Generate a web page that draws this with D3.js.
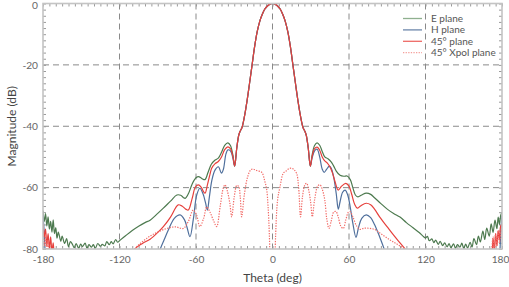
<!DOCTYPE html>
<html lang="en">
<head>
<meta charset="UTF-8">
<title>Radiation pattern</title>
<script src="https://d3js.org/d3.v7.min.js"></script>
<style>
    body { margin: 0; padding: 0; background: #fff; }
    svg { display: block; font-family: Lato, "Open Sans", sans-serif; }
    .grid line { stroke: #8a8a8a; stroke-width: 1; stroke-dasharray: 6,4; }
    .ticks line { stroke: #9a9a9a; stroke-width: 1; }
    .ticks path { display: none; }
    .labels path, .labels line { display: none; }
    .labels text { fill: #666; font-size: 10.2px; font-family: Lato, sans-serif; }
    .trace { fill: none; stroke-width: 1.2px; }
</style>
</head>
<body>
<svg width="509" height="287"></svg>
<script>
// axis ticks
const xTickLabels = [-180, -120, -60, 0, 60, 120, 180];
const yTickLabels = [0, -20, -40, -60, -80];
const seriesNames = ["E plane", "H plane", "45\u00b0 plane", "45\u00b0 Xpol plane"];

// main lobe shared by the co-pol cuts
const mainLobe = [[-24,-40.5],[-22,-36.8],[-20,-31.8],[-18,-26],[-16,-20],[-14,-14],[-12,-9.2],[-10,-5.8],[-8,-3.5],[-6,-1.8],[-4,-0.8],[-2,-0.2],[0,0],
    [2,-0.2],[4,-0.8],[6,-1.8],[8,-3.5],[10,-5.8],[12,-9.2],[14,-14],[16,-20],[18,-26],[20,-31.8],[22,-36.8],[24,-40.5]];

// E plane (green)
const eLeft = [[-180,-67.5],[-179,-71],[-178,-68.5],[-177,-72.5],[-176,-69.5],[-175,-73.5],[-174,-71],[-173,-74.5],[-172,-70.5],[-171,-75],[-170,-73],[-169,-76.5],[-168,-74.5],
    [-166,-77.5],[-165,-75.8],[-163,-78.2],[-161.5,-76.6],[-160,-79.2],[-158.5,-77.6],[-157,-78.4],[-155.5,-79.6],[-154,-78.2],[-152,-79.8],[-150.5,-78.4],[-149,-79.2],
    [-147,-78.1],[-145.5,-79.8],[-144,-78.6],[-142,-79.4],[-140.5,-78.6],[-139,-79.8],[-137,-78.2],[-135,-79.1],[-133.5,-78.5],[-131.5,-79],[-130,-77.6],[-128,-78.6],
    [-126.5,-77.6],[-125,-78.3],[-123,-76.9],[-121.5,-77.8],[-119.5,-77.1],
    [-115,-75.6],[-110,-74],[-105,-72.6],[-100,-71.4],[-96,-70.6],[-90,-68.4],[-85.6,-66.7],[-80,-64.4],[-75,-62.4],[-72,-62.5],[-70,-63.2],[-68.5,-63.5],
    [-66,-62],[-63,-58.8],[-60,-56.8],[-58,-56.4],[-55.5,-57],[-53,-57.4],[-50.5,-55],[-48,-52.4],[-45,-51],[-42.5,-50.4],[-40,-48.5],[-37.5,-46.2],
    [-35,-45.4],[-33,-46.3],[-31,-49.5],[-29.7,-53],[-28,-47],[-26.5,-43],[-25.5,-41.7]];
const eRight = [[25.5,-41.7],[26.5,-43],[28,-47],[29.7,-53],[31,-49.5],[33,-46.3],[35,-45.4],[37,-46.2],[39,-48.2],[41,-50],[43.5,-50.6],[46,-51.6],[48,-53],
    [50,-54.6],[53,-56],[56,-56.3],[58.5,-56.2],[61,-57.4],[63,-60],[65,-62.4],[67,-63],[70,-62.4],[73.5,-61.8],[77,-62.2],[80,-63.3],[85,-65.2],[90,-67],
    [95,-68.4],[100,-69.6],[105,-71.4],[110,-73],[115,-74.6],[118,-75.8],[120,-76.4],[121.5,-75.9],[123,-77.3],[125,-76.7],[126.5,-77.9],[128,-77.1],[130,-78.5],
    [131.5,-77.5],[133.5,-78.9],[135,-78],[137,-79.3],[138.5,-78.2],[140,-79.6],[142,-78.3],[143.5,-79.8],[145,-78.6],[147,-79.4],[148.5,-78.1],[150,-79.8],
    [151.5,-78.4],[153,-79.7],[155,-77.8],[156.5,-79.4],[158,-76.6],[160,-78.6],[161.5,-75.8],[163,-77.7],[165,-74.2],[166.5,-76.9],[168,-73.2],[170,-75.8],
    [171.5,-71.8],[173,-74.6],[174.5,-70.6],[176,-73.4],[177,-69.6],[178,-72],[179,-69],[180,-68]];

// H plane (blue)
const hLeft = [[-180,-69],[-179,-75],[-178,-84],[-176,-95]];
const hMid = [[-95,-90],[-88,-80],[-85,-77],[-81.7,-73.8],[-77,-70],[-72.5,-68.9],[-69,-70.5],[-67,-73],[-64.7,-76],[-62,-70],[-59.5,-62.5],[-57,-60.2],
    [-54.5,-62],[-52.5,-65],[-51.1,-67.3],[-49.5,-63],[-47.5,-57.5],[-45.1,-54.3],[-42.5,-53.2],[-40,-55.3],[-38.5,-54],[-36.5,-49],[-35,-47.7],[-33,-48],
    [-31,-50.5],[-29.7,-53],[-28,-47],[-26.5,-43],[-25.5,-41.7]];
const hRight = [[25.5,-41.7],[26.5,-43],[28,-47],[29.7,-53],[31,-50.5],[33,-48],[35,-47.5],[37,-50],[39,-54],[40.5,-55],[42.5,-54],[44.5,-53],[46,-53.6],
    [48,-56.6],[50,-62],[51.6,-67],[53,-64.6],[55,-61.5],[57,-60.8],[59,-62.4],[61,-66.4],[63,-71.6],[65.5,-76.2],[67.5,-73],[70,-70],[73.5,-68.9],[77,-69.8],
    [80,-72],[84,-76],[88,-80.5],[95,-90]];
const hRightEdge = [[176,-95],[178,-84],[179,-75],[180,-69]];

// 45 deg plane (red)
const dLeftEdge = [[-180,-72],[-179,-76],[-178,-73.5],[-177,-79],[-176,-75],[-175,-80],[-174,-76],[-173,-81],[-172,-78],[-171,-84],[-168,-92]];
const dMid = [[-120,-88],[-108,-80],[-102,-78.2],[-96,-76.8],[-90,-74.6],[-85.6,-72.7],[-80,-69.6],[-76,-66.6],[-73.9,-65.6],[-71,-66],[-68,-67],[-66,-67.3],
    [-63,-63.5],[-60.5,-59.8],[-58.2,-59.1],[-56,-59.8],[-54,-61.4],[-52.9,-61.8],[-51,-59],[-49,-55.6],[-47.7,-53.7],[-45,-52.2],[-42.5,-51.5],[-40,-50],
    [-37.5,-47.6],[-35,-46.7],[-33,-47.3],[-31,-50],[-29.7,-53],[-28,-47],[-26.5,-43],[-25.5,-41.7]];
const dRight = [[25.5,-41.7],[26.5,-43],[28,-47],[29.7,-53],[31,-50],[33,-47.3],[35,-46.8],[37,-47.8],[39,-50],[41,-51.3],[43,-52],[45,-53.2],[47,-55.2],
    [49,-58],[51.6,-60.8],[54,-59.6],[57.5,-58.6],[60,-59.5],[62,-62],[64.5,-65.5],[66.5,-66.7],[69,-66],[73.5,-65.1],[77,-65.6],[80,-67],[84,-69.5],
    [90,-72.8],[95,-75.5],[100,-78],[105,-80.5],[110,-83],[120,-88]];
const dRightEdge = [[166,-92],[170,-83],[171,-80],[172,-82],[173,-76.5],[174,-80.5],[175,-75],[176,-79],[177,-74],[178,-77],[179,-72.5],[180,-72]];

// 45 deg cross-pol (dotted red)
const xpolLeftEdge = [[-180,-74],[-179,-79],[-178,-75.5],[-177,-82],[-176,-77],[-175,-85],[-172,-92]];
const xpolMid = [[-116,-86],[-108,-80],[-102,-77.6],[-96,-75.8],[-90,-74.5],[-83,-73.3],[-76,-72.8],[-70,-73.3],[-66,-71],[-62.2,-67.3],[-59.5,-69],
    [-57,-72.7],[-54,-70],[-51.6,-66.3],[-49,-68],[-46,-71],[-43.8,-72.7],[-41,-66],[-38.5,-60],[-37.3,-59.1],[-35.5,-61],[-33.5,-65],[-32,-69.5],
    [-30,-63],[-28,-59.3],[-26.5,-59.6],[-25.3,-63],[-24.2,-69.5],[-22,-62],[-19.5,-56.5],[-17,-54.2],[-15,-54],[-12,-54.5],[-8.5,-55],[-6,-58],
    [-4.6,-60.5],[-3.5,-66],[-2.5,-75],[-1.5,-90],[0,-100],[1.5,-90],[2.5,-75],[4,-64],[5.9,-59.7],[8.5,-55.3],[11,-54.5],[13,-53.8],[15,-53.7],[17,-54.2],
    [19,-55.5],[20.5,-60],[22,-69.5],[23.5,-63],[25.5,-59],[26.8,-58.6],[28.5,-61],[30,-65],[31.2,-69.5],[33,-64],[35.5,-59.5],[37.3,-59.1],[39,-60.5],
    [41,-64],[42.5,-70],[44.3,-73.3],[46,-71],[48,-68],[49.8,-67.8],[51.5,-69.5],[53.5,-72.5],[55.5,-73.3],[57.5,-70.5],[59.5,-68],[60.8,-67.8],[63,-69.5],
    [66,-72.5],[68.6,-73.6],[72,-73.2],[76.5,-73.3],[80,-73.6],[85,-75],[92,-77],[98,-78.5],[105,-80.5],[112,-84],[120,-88]];
const xpolRightEdge = [[168,-92],[171,-84],[172,-80],[173,-76],[174,-81],[175,-75],[176,-79],[177,-74],[178,-78],[179,-75],[180,-73]];

const svg = d3.select("svg");
const plotLeft = 43, plotRight = 502, plotTop = 3.5, plotBottom = 249;

const x = d3.scaleLinear().domain([-180, 180]).range([plotLeft, plotRight]);
const y = d3.scaleLinear().domain([-80, 0]).range([plotBottom, plotTop]);

svg.append("defs").append("clipPath").attr("id", "plot")
    .append("rect").attr("x", plotLeft).attr("y", plotTop)
    .attr("width", plotRight - plotLeft).attr("height", plotBottom - plotTop);

// grid
const grid = svg.append("g").attr("class", "grid");
grid.selectAll(".gx").data([-120, -60, 0, 60, 120]).enter().append("line")
    .attr("x1", d => x(d)).attr("x2", d => x(d)).attr("y1", plotTop).attr("y2", plotBottom);
grid.selectAll(".gy").data([-20, -40, -60]).enter().append("line")
    .attr("x1", plotLeft).attr("x2", plotRight).attr("y1", d => y(d)).attr("y2", d => y(d));

// inward minor ticks on all four sides
const xMinor = d3.range(-180, 181, 5);
const yMinor = d3.range(-80, 1, 2);
svg.append("g").attr("class", "ticks").attr("transform", `translate(0,${plotBottom})`)
    .call(d3.axisBottom(x).tickValues(xMinor).tickSize(-3).tickFormat(""));
svg.append("g").attr("class", "ticks").attr("transform", `translate(0,${plotTop})`)
    .call(d3.axisTop(x).tickValues(xMinor).tickSize(-3).tickFormat(""));
svg.append("g").attr("class", "ticks").attr("transform", `translate(${plotLeft},0)`)
    .call(d3.axisLeft(y).tickValues(yMinor).tickSize(-3).tickFormat(""));
svg.append("g").attr("class", "ticks").attr("transform", `translate(${plotRight},0)`)
    .call(d3.axisRight(y).tickValues(yMinor).tickSize(-3).tickFormat(""));

// traces
const line = d3.line().x(d => x(d[0])).y(d => y(d[1])).curve(d3.curveCatmullRom.alpha(0.5));
const traces = svg.append("g").attr("clip-path", "url(#plot)");
const colors = ["#4d7a4f", "#4f6f9c", "#e6403c", "#f26a66"];

function draw(parts, color, dash) {
    parts.forEach(p => {
        traces.append("path").attr("class", "trace").attr("d", line(p))
            .attr("stroke", color).attr("stroke-dasharray", dash || null)
            .attr("stroke-width", dash ? 1.3 : 1.2);
    });
}
draw([eLeft.concat(mainLobe, eRight)], colors[0]);
draw([hLeft, hMid.concat(mainLobe, hRight), hRightEdge], colors[1]);
draw([dLeftEdge, dMid.concat(mainLobe, dRight), dRightEdge], colors[2]);
draw([xpolLeftEdge, xpolMid, xpolRightEdge], colors[3], "1.3,1.3");

// frame
svg.append("rect").attr("x", plotLeft).attr("y", plotTop)
    .attr("width", plotRight - plotLeft).attr("height", plotBottom - plotTop)
    .attr("fill", "none").attr("stroke", "#c4c4c4").attr("stroke-width", 1.6);

// labels (plain hyphen minus, as in the original)
const fmt = d => String(d);
const xLabels = svg.append("g").attr("class", "labels").attr("transform", `translate(0,${plotBottom})`)
    .call(d3.axisBottom(x).tickValues(xTickLabels).tickFormat(fmt).tickSize(0).tickPadding(7));
xLabels.selectAll("text").filter(d => d === 180).attr("dx", "-2");
const yLabels = svg.append("g").attr("class", "labels").attr("transform", `translate(${plotLeft},0)`)
    .call(d3.axisLeft(y).tickValues(yTickLabels).tickFormat(fmt).tickSize(0).tickPadding(5));
yLabels.selectAll("text").filter(d => d === 0).attr("dy", "0.5em");

svg.append("text").attr("x", x(0)).attr("y", 282).attr("text-anchor", "middle")
    .attr("fill", "#444").style("font-size", "12px").text("Theta (deg)");
svg.append("text").attr("transform", `translate(12,${(plotTop + plotBottom) / 2}) rotate(-90)`)
    .attr("text-anchor", "middle").attr("dy", "0.35em")
    .attr("fill", "#444").style("font-size", "12px").text("Magnitude (dB)");

// legend
const legend = svg.append("g").attr("transform", "translate(403,18.5)");
const legendColors = ["#8fb08f", "#6d87ab", "#ee6a66", "#f4a09c"];
seriesNames.forEach((name, i) => {
    legend.append("line").attr("x1", 0).attr("x2", 19).attr("y1", i * 11.4).attr("y2", i * 11.4)
        .attr("stroke", legendColors[i]).attr("stroke-width", 1.3)
        .attr("stroke-dasharray", i === 3 ? "1.3,1.3" : null);
    legend.append("text").attr("x", 28).attr("y", i * 11.4).attr("dy", "0.35em")
        .attr("fill", "#555").style("font-size", "10px").text(name);
});
</script>
</body>
</html>
